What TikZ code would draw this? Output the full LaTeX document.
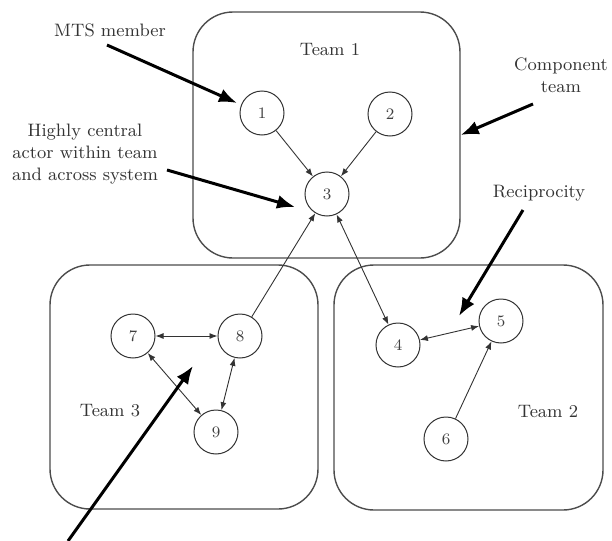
\documentclass[tikz,border=0pt]{standalone}
\usetikzlibrary{arrows.meta}
\begin{document}
\begin{tikzpicture}[x=0.5pt,y=-0.5pt,
  teambox/.style={draw=black!70,line width=0.7pt,rounded corners=20pt,inner sep=0pt},
  actor/.style={draw=black!80,circle,line width=0.5pt,minimum size=22pt,inner sep=0pt,font=\footnotesize,text=black!75},
  lbl/.style={font=\small,text=black!80,align=center},
  link/.style={line width=0.45pt,draw=black!80,-{Latex[length=4pt,width=3pt]}},
  blink/.style={line width=0.45pt,draw=black!80,{Latex[length=4pt,width=3pt]}-{Latex[length=4pt,width=3pt]}},
  callout/.style={line width=1.5pt,-{Latex[length=9pt,width=7pt]}}]
\useasboundingbox (0,0) rectangle (612,541);
% team boxes
\node[teambox,minimum width=133.5pt,minimum height=123pt] (t1) at (326.5,135) {};
\node[teambox,minimum width=134pt,minimum height=122pt] (t3) at (184,387) {};
\node[teambox,minimum width=134.5pt,minimum height=122.5pt] (t2) at (468.5,387.5) {};
% team labels
\node[lbl] (l1) at (330,50) {Team 1};
\node[lbl] (l3) at (110,411) {Team 3};
\node[lbl] (l2) at (548,412) {Team 2};
% actors
\node[actor] (n1) at (262,113) {1};
\node[actor] (n2) at (390,114) {2};
\node[actor] (n3) at (327,194) {3};
\node[actor] (n4) at (398,345) {4};
\node[actor] (n5) at (501,321) {5};
\node[actor] (n6) at (446,439) {6};
\node[actor] (n7) at (133,336) {7};
\node[actor] (n8) at (240,336) {8};
\node[actor] (n9) at (216,432) {9};
% links
\draw[link] (n1) -- (n3);
\draw[link] (n2) -- (n3);
\draw[link] (n8) -- (n3);
\draw[blink] (n3) -- (n4);
\draw[blink] (n4) -- (n5);
\draw[link] (n6) -- (n5);
\draw[blink] (n7) -- (n8);
\draw[blink] (n7) -- (n9);
\draw[blink] (n8) -- (n9);
% callout labels
\node[lbl] (mts) at (110,30) {MTS member};
\node[lbl,align=center] (hc) at (85,154) {Highly central\\actor within team\\and across system};
\node[lbl] (comp) at (561,75) {Component\\team};
\node[lbl] (rec) at (539,193) {Reciprocity};
% callout arrows
\coordinate (mtsS) at (107,45);
\coordinate (mtsE) at (237,103);
\coordinate (hcS) at (167,170);
\coordinate (hcE) at (295,207);
\coordinate (compS) at (533,104);
\coordinate (recS) at (523,210);
\coordinate (recE) at (459,316);
\coordinate (botS) at (68,541);
\coordinate (botE) at (193,366);
\draw[callout] (mtsS) -- (mtsE);
\draw[callout] (hcS) -- (hcE);
\draw[callout] (compS) -- (t1.east);
\draw[callout] (recS) -- (recE);
\draw[callout] (botS) -- (botE);
\end{tikzpicture}
\end{document}
